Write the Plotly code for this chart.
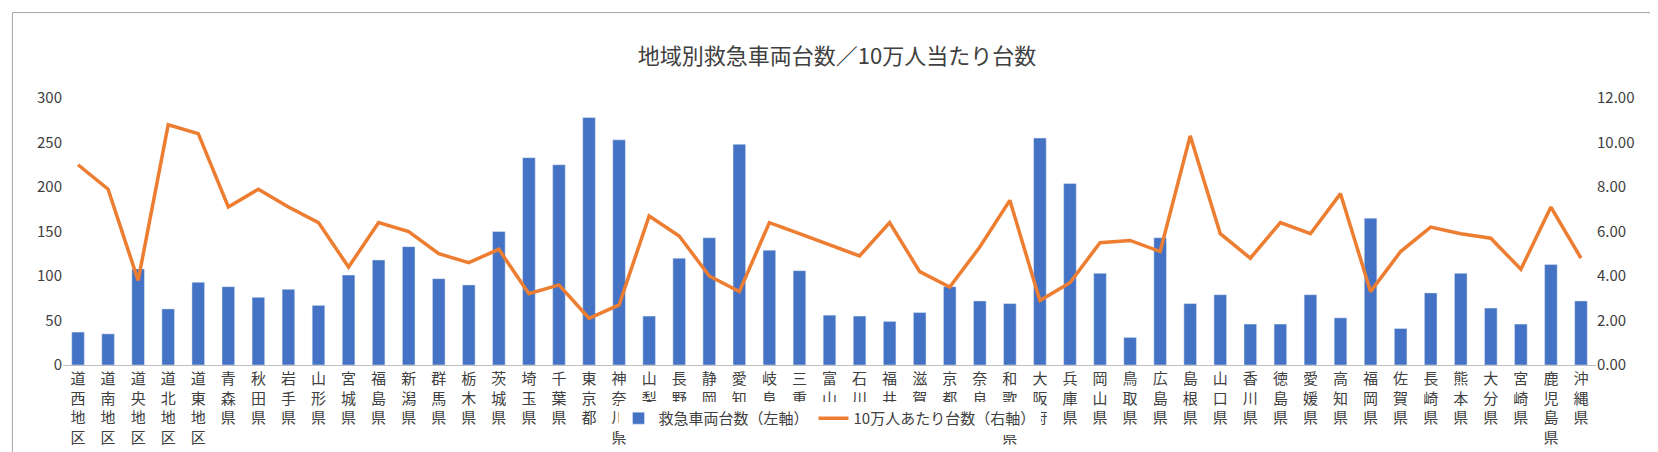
import plotly.graph_objects as go

cats = ["道西地区","道南地区","道央地区","道北地区","道東地区","青森県","秋田県","岩手県","山形県","宮城県","福島県","新潟県","群馬県","栃木県","茨城県","埼玉県","千葉県","東京都","神奈川県","山梨県","長野県","静岡県","愛知県","岐阜県","三重県","富山県","石川県","福井県","滋賀県","京都府","奈良県","和歌山県","大阪府","兵庫県","岡山県","鳥取県","広島県","島根県","山口県","香川県","徳島県","愛媛県","高知県","福岡県","佐賀県","長崎県","熊本県","大分県","宮崎県","鹿児島県","沖縄県"]
vehicles = [37,35,108,63,93,88,76,85,67,101,118,133,97,90,150,233,225,278,253,55,120,143,248,129,106,56,55,49,59,88,72,69,255,204,103,31,143,69,79,46,46,79,53,165,41,81,103,64,46,113,72]
per100k = [9.0,7.9,3.8,10.8,10.4,7.1,7.9,7.1,6.4,4.4,6.4,6.0,5.0,4.6,5.2,3.2,3.6,2.1,2.7,6.7,5.8,4.0,3.3,6.4,5.9,5.4,4.9,6.4,4.2,3.5,5.3,7.4,2.9,3.7,5.5,5.6,5.1,10.3,5.9,4.8,6.4,5.9,7.7,3.3,5.1,6.2,5.9,5.7,4.3,7.1,4.8]
labels = ["<br>".join(c) for c in cats]

font = "Noto Sans CJK JP"
fig = go.Figure()
fig.add_bar(x=labels, y=vehicles, name="救急車両台数（左軸）", marker_color="#4472C4", width=0.42)
fig.add_scatter(x=labels, y=per100k, name="10万人あたり台数（右軸）", yaxis="y2",
                mode="lines", line=dict(color="#ED7D31", width=3.5))
fig.update_layout(
    width=1658, height=452, paper_bgcolor="white", plot_bgcolor="white",
    font=dict(family=font, size=15, color="#404040"),
    title=dict(text="地域別救急車両台数／10万人当たり台数", x=0.5, y=0.91, xanchor="center",
               font=dict(size=22, color="#404040")),
    margin=dict(l=55, r=70, t=90, b=95),
    xaxis=dict(tickangle=0, showline=True, linecolor="#BFBFBF", tickfont=dict(size=15)),
    yaxis=dict(range=[0, 300], dtick=50, showgrid=False, zeroline=False, tickfont=dict(size=15)),
    yaxis2=dict(range=[0, 12], dtick=2, overlaying="y", side="right", tickformat=".2f",
                showgrid=False, zeroline=False, tickfont=dict(size=15)),
    legend=dict(orientation="h", x=0.5, xanchor="center", y=-0.2, yanchor="middle", font=dict(size=15)),
    shapes=[dict(type="rect", xref="paper", yref="paper", x0=-0.033, x1=1.041, y0=-0.34, y1=1.32,
                 line=dict(color="#A6A6A6", width=1))],
)
fig.write_html("out.html")
